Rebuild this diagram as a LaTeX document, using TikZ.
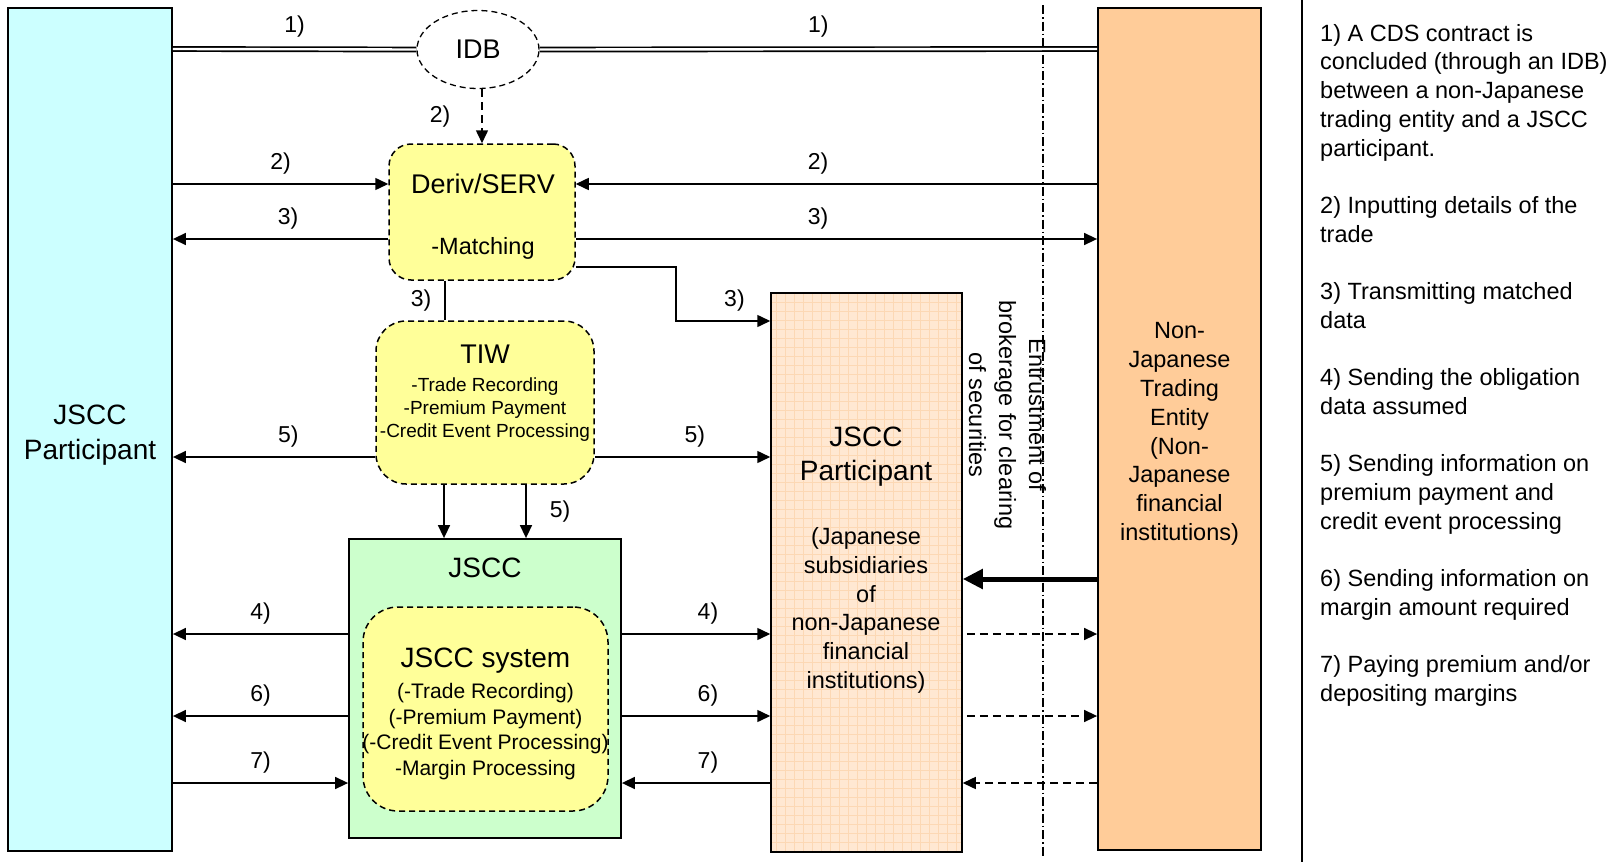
\documentclass[tikz,border=0pt]{standalone}
\usepackage{fontspec}
\setmainfont{Liberation Sans}
\usetikzlibrary{arrows.meta}
\usetikzlibrary{positioning}
\usetikzlibrary{shapes.geometric}
\definecolor{pcyan}{HTML}{CCFFFF}
\definecolor{pyellow}{HTML}{FFFF99}
\definecolor{pgreen}{HTML}{CCFFCC}
\definecolor{ppeach}{HTML}{FFCC99}
\definecolor{plight}{HTML}{FFE8D2}
\definecolor{pgrid}{HTML}{FCD8B4}
\tikzset{arr/.style = {line width = 1.5pt, -{Triangle[length = 13pt, width = 12pt]}}}
\tikzset{darr/.style = {arr, dash pattern = on 8pt off 5pt}}
\tikzset{fatarr/.style = {line width = 5pt, -{Triangle[length = 20pt, width = 19pt]}}}
\tikzset{dline/.style = {double, double distance = 2.4pt, line width = 1.7pt}}
\tikzset{dbox/.style = {draw, fill = pyellow, dash pattern = on 6pt off 4pt, line width = 1.5pt}}
\tikzset{sbox/.style = {draw, line width = 1.8pt}}
\tikzset{lab/.style = {font = \fontsize{23}{25}\selectfont, inner sep = 0}}
\tikzset{txt/.style = {font = \fontsize{23.5}{28.8}\selectfont, align = center, inner sep = 0}}
\tikzset{big/.style = {font = \fontsize{28}{34.5}\selectfont, align = center, inner sep = 0}}

\begin{document}
\begin{tikzpicture}[x = 1pt, y = -1pt]
      \fill [white] (0, 0) rectangle (1623, 862);
      \useasboundingbox (0, 0) rectangle (1623, 862);

      \coordinate (lv1) at (0, 49);
      \coordinate (lv2) at (0, 184);
      \coordinate (lv3) at (0, 239);
      \coordinate (lv5) at (0, 457);
      \coordinate (lvf) at (0, 579);
      \coordinate (lv4) at (0, 634);
      \coordinate (lv6) at (0, 716);
      \coordinate (lv7) at (0, 783);
      \coordinate (bend1) at (676, 267);
      \coordinate (bend2) at (676, 321);
      \coordinate (dtop) at (1043, 5);
      \coordinate (dbot) at (1043, 858);
      \coordinate (septop) at (1302, 0);
      \coordinate (sepbot) at (1302, 862);

      \draw [line width = 1.2pt, dash pattern = on 9pt off 3pt on 1.5pt off 3pt] (dtop) -- (dbot);
      \draw [line width = 2pt] (septop) -- (sepbot);

      \node [sbox, fill = pcyan, minimum width = 164pt, minimum height = 843pt] (lpart) at (90, 429.5) {};
      \node [big] (lptext) at (90, 435) {JSCC\\Participant};
      \node [draw, ellipse, fill = white, dash pattern = on 6pt off 4pt, line width = 1.3pt,
             minimum width = 122pt, minimum height = 78pt, font = \fontsize{27}{30}\selectfont] (idb) at (478, 49.5) {IDB};
      \node [dbox, rounded corners = 22pt, minimum width = 186pt, minimum height = 136pt] (dvs) at (482, 212) {};
      \node [txt] (dvstext) at (483, 217) {{\fontsize{27}{28}\selectfont Deriv/SERV}\\[32pt]-Matching};
      \node [dbox, rounded corners = 30pt, minimum width = 218pt, minimum height = 163pt] (tiw) at (485, 402.5) {};
      \node [font = \fontsize{19}{23}\selectfont, align = center, inner sep = 0] (tiwtext) at (485, 393)
            {{\fontsize{27}{28}\selectfont TIW}\\[5pt]-Trade Recording\\-Premium Payment\\-Credit Event Processing};
      \node [sbox, fill = pgreen, minimum width = 272pt, minimum height = 299pt] (jscc) at (485, 688.5) {};
      \node [big] (jscctitle) at (485, 568) {JSCC};
      \node [dbox, rounded corners = 35pt, minimum width = 245pt, minimum height = 204pt] (jsys) at (485.5, 709) {};
      \node [font = \fontsize{21}{25.5}\selectfont, align = center, inner sep = 0] (jsystext) at (485.5, 713.5)
            {{\fontsize{28}{30}\selectfont JSCC system}\\[6pt](-Trade Recording)\\(-Premium Payment)\\(-Credit Event Processing)\\-Margin Processing};
      \node [draw, line width = 1.5pt, fill = plight, minimum width = 191pt, minimum height = 559pt,
             path picture = {\draw [pgrid, line width = 0.4pt, step = 9pt] (path picture bounding box.south west) grid (path picture bounding box.north east);}]
            (mpart) at (866.5, 572.5) {};
      \node [big] (mptitle) at (866, 456.5) {JSCC\\Participant};
      \node [txt] (mpsub) at (866, 610.5) {(Japanese\\subsidiaries\\of\\non-Japanese\\financial\\institutions)};
      \node [sbox, fill = ppeach, minimum width = 163pt, minimum height = 842pt] (npart) at (1179.5, 429) {};
      \node [txt] (nptext) at (1179.5, 434)
            {Non-\\Japanese\\Trading\\Entity\\(Non-\\Japanese\\financial\\institutions)};
      \node [txt, rotate = -90, font = \fontsize{23.5}{30}\selectfont] (entrust) at (1007.5, 415)
            {Entrustment of\\brokerage for clearing\\of securities};
      \node [anchor = north west, align = left, inner sep = 0, font = \fontsize{23.5}{28.7}\selectfont] (notes) at (1320, 24)
            {1) A CDS contract is\\concluded (through an IDB)\\between a non-Japanese\\trading entity and a JSCC\\participant.\\[28.7pt]
             2) Inputting details of the\\trade\\[28.7pt]
             3) Transmitting matched\\data\\[28.7pt]
             4) Sending the obligation\\data assumed\\[28.7pt]
             5) Sending information on\\premium payment and\\credit event processing\\[28.7pt]
             6) Sending information on\\margin amount required\\[28.7pt]
             7) Paying premium and/or\\depositing margins};

      \draw [dline] (lpart.east |- lv1) -- (idb.west) node [lab, midway, above = 11pt] {1)};
      \draw [dline] (idb.east) -- (npart.west |- lv1) node [lab, midway, above = 11pt] {1)};
      \draw [darr] (dvs.north |- idb.south) -- (dvs.north) node [lab, midway, left = 31pt] {2)};

      \draw [arr] (lpart.east |- lv2) -- (dvs.west |- lv2) node [lab, midway, above = 9pt] {2)};
      \draw [arr] (npart.west |- lv2) -- (dvs.east |- lv2) node [lab, pos = 0.535, above = 9pt] {2)};
      \draw [arr] (dvs.west |- lv3) -- (lpart.east |- lv3) node [lab, pos = 0.465, above = 9pt] {3)};
      \draw [arr] (dvs.east |- lv3) -- (npart.west |- lv3) node [lab, pos = 0.465, above = 9pt] {3)};
      \draw [arr] (dvs.east |- bend1) -- (bend1) -- (bend2) -- (mpart.west |- bend2) node [lab, pos = 0.62, above = 9pt] {3)};
      \draw [line width = 1.5pt] ([xshift = -37pt] dvs.south) -- ([xshift = -37pt] dvs.south |- tiw.north) node [lab, midway, left = 13pt] {3)};

      \draw [arr] (tiw.west |- lv5) -- (lpart.east |- lv5) node [lab, pos = 0.43, above = 9pt] {5)};
      \draw [arr] (tiw.east |- lv5) -- (mpart.west |- lv5) node [lab, pos = 0.57, above = 9pt] {5)};
      \draw [arr] ([xshift = -41pt] tiw.south) -- ([xshift = -41pt] tiw.south |- jscc.north);
      \draw [arr] ([xshift = 41pt] tiw.south) -- ([xshift = 41pt] tiw.south |- jscc.north) node [lab, midway, right = 23pt] {5)};

      \draw [arr] (jscc.west |- lv4) -- (lpart.east |- lv4) node [lab, midway, above = 9pt] {4)};
      \draw [arr] (jscc.east |- lv4) -- (mpart.west |- lv4) node [lab, pos = 0.58, above = 9pt] {4)};
      \draw [arr] (jscc.west |- lv6) -- (lpart.east |- lv6) node [lab, midway, above = 9pt] {6)};
      \draw [arr] (jscc.east |- lv6) -- (mpart.west |- lv6) node [lab, pos = 0.58, above = 9pt] {6)};
      \draw [arr] (lpart.east |- lv7) -- (jscc.west |- lv7) node [lab, midway, above = 9pt] {7)};
      \draw [arr] (mpart.west |- lv7) -- (jscc.east |- lv7) node [lab, pos = 0.42, above = 9pt] {7)};

      \draw [fatarr] (npart.west |- lvf) -- (mpart.east |- lvf);
      \draw [darr, shorten <= 4pt] (mpart.east |- lv4) -- (npart.west |- lv4);
      \draw [darr, shorten <= 4pt] (mpart.east |- lv6) -- (npart.west |- lv6);
      \draw [darr] (npart.west |- lv7) -- (mpart.east |- lv7);
    \end{tikzpicture}
\end{document}
